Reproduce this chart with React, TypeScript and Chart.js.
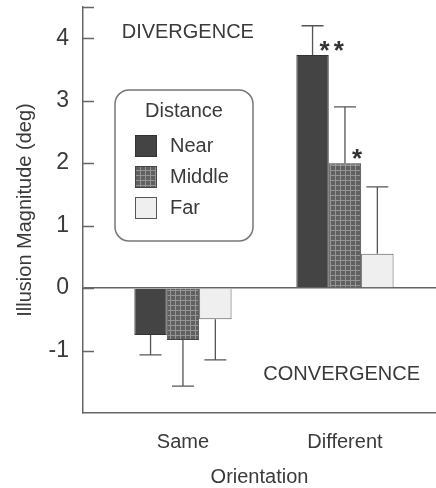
import React, { useEffect, useRef } from 'react';
import { Chart, registerables } from 'chart.js';

Chart.register(...registerables);

// ---- data ----
const categories = ['Same', 'Different'];
const seriesNames = ['Near', 'Middle', 'Far'];
const nearValues = [-0.75, 3.73];
const middleValues = [-0.83, 2.0];
const farValues = [-0.5, 0.55];
const nearErrors = [0.32, 0.47];
const middleErrors = [0.74, 0.9];
const farErrors = [0.65, 1.07];
const nearMarks = ['', '**'];
const middleMarks = ['', '*'];
const farMarks = ['', ''];
const yTickValues = [-1, 0, 1, 2, 3, 4];
const legendTitle = 'Distance';
const xTitle = 'Orientation';
const yTitle = 'Illusion Magnitude (deg)';
const regionLabels = ['DIVERGENCE', 'CONVERGENCE'];
const regionLabelX = [1.03, 1.98];
const regionLabelY = [4.1, -1.38];

const FONT = '"Liberation Sans", Arial, Helvetica, sans-serif';
const TEXT = '#3a3a3a';
const LINE = '#666666';

function makePattern(base: string, line: string | null, size: number) {
  const c = document.createElement('canvas');
  c.width = size;
  c.height = size;
  const g = c.getContext('2d')!;
  g.fillStyle = base;
  g.fillRect(0, 0, size, size);
  if (line) {
    g.fillStyle = line;
    g.fillRect(0, 0, size, 1);
    g.fillRect(0, 0, 1, size);
  }
  return g.createPattern(c, 'repeat')!;
}

const errorBarPlugin = {
  id: 'errorBars',
  afterDatasetsDraw(chart: any) {
    const ctx = chart.ctx;
    const y = chart.scales.y;
    chart.data.datasets.forEach((ds: any, di: number) => {
      const meta = chart.getDatasetMeta(di);
      meta.data.forEach((bar: any, i: number) => {
        const v = ds.data[i].y;
        const e = ds.errors[i];
        const end = v >= 0 ? v + e : v - e;
        const y0 = y.getPixelForValue(v);
        const y1 = y.getPixelForValue(end);
        ctx.save();
        ctx.strokeStyle = '#555';
        ctx.lineWidth = 1.3;
        ctx.beginPath();
        ctx.moveTo(bar.x, y0);
        ctx.lineTo(bar.x, y1);
        ctx.moveTo(bar.x - 11, y1);
        ctx.lineTo(bar.x + 11, y1);
        ctx.stroke();
        const m = ds.marks[i];
        if (m) {
          ctx.fillStyle = '#333';
          ctx.font = `bold 26px ${FONT}`;
          (ctx as any).letterSpacing = '4px';
          ctx.textAlign = 'left';
          ctx.textBaseline = 'alphabetic';
          ctx.fillText(m, bar.x + 7, y0 - 11 + 15);
        }
        ctx.restore();
      });
    });
  },
};

const decorPlugin = {
  id: 'decor',
  afterDraw(chart: any) {
    const ctx = chart.ctx;
    const area = chart.chartArea;
    const x = chart.scales.x;
    const y = chart.scales.y;
    ctx.save();
    // inward y ticks
    ctx.strokeStyle = LINE;
    ctx.lineWidth = 1.5;
    ctx.beginPath();
    const vals = [...yTickValues, y.max];
    vals.forEach((v) => {
      const py = Math.round(y.getPixelForValue(v)) + 0.5;
      ctx.moveTo(area.left, py);
      ctx.lineTo(area.left + 11, py);
    });
    ctx.stroke();

    // region labels
    ctx.fillStyle = TEXT;
    ctx.font = `20px ${FONT}`;
    ctx.textAlign = 'center';
    ctx.textBaseline = 'middle';
    regionLabels.forEach((t, i) => {
      ctx.fillText(t, x.getPixelForValue(regionLabelX[i]), y.getPixelForValue(regionLabelY[i]));
    });

    // legend box
    const lx = area.left + 32;
    const ly = area.top + 83;
    const lw = 138;
    const lh = 151;
    ctx.strokeStyle = '#777';
    ctx.lineWidth = 1.5;
    ctx.beginPath();
    (ctx as any).roundRect(lx, ly, lw, lh, 14);
    ctx.stroke();
    ctx.fillStyle = TEXT;
    ctx.textAlign = 'center';
    ctx.fillText(legendTitle, lx + lw / 2, ly + 21);
    chart.data.datasets.forEach((ds: any, i: number) => {
      const cy = ly + 56 + i * 31;
      ctx.fillStyle = ds.backgroundColor;
      ctx.fillRect(lx + 20, cy - 11, 22, 22);
      ctx.strokeStyle = ds.borderColor;
      ctx.lineWidth = 1;
      ctx.strokeRect(lx + 20.5, cy - 10.5, 21, 21);
      ctx.fillStyle = TEXT;
      ctx.textAlign = 'left';
      ctx.fillText(ds.label, lx + 55, cy);
    });
    ctx.restore();
  },
};

export default function App() {
  const canvasRef = useRef<HTMLCanvasElement | null>(null);

  useEffect(() => {
    const canvas = canvasRef.current!;
    const nearFill = '#444444';
    const middleFill = makePattern('#606060', '#959595', 5);
    const farFill = '#efefef';
    const values = [nearValues, middleValues, farValues];
    const errors = [nearErrors, middleErrors, farErrors];
    const marks = [nearMarks, middleMarks, farMarks];
    const fills: any[] = [nearFill, middleFill, farFill];
    const borders = ['#333', '#444', '#555'];

    const chart = new Chart(canvas, {
      type: 'bar',
      data: {
        datasets: seriesNames.map((name, s) => ({
          label: name,
          data: categories.map((_, i) => ({ x: i + 1, y: values[s][i] })),
          backgroundColor: fills[s],
          borderColor: borders[s],
          borderWidth: 1,
          errors: errors[s],
          marks: marks[s],
          categoryPercentage: 0.6,
          barPercentage: 1,
        })) as any,
      },
      options: {
        animation: false,
        responsive: true,
        maintainAspectRatio: false,
        layout: { padding: { top: 7, left: 0, right: 0, bottom: 0 } },
        plugins: { legend: { display: false }, tooltip: { enabled: false } },
        scales: {
          x: {
            type: 'linear',
            offset: false,
            min: 0.383,
            max: 2.562,
            afterBuildTicks: (scale: any) => {
              scale.ticks = categories.map((_, i) => ({ value: i + 1 }));
            },
            afterFit: (scale: any) => {
              scale.height = 75;
              scale.paddingLeft = 0;
              scale.paddingRight = 0;
            },
            grid: { display: false, drawTicks: false, offset: false },
            border: { display: true, color: LINE, width: 1.5 },
            ticks: {
              padding: 17,
              color: TEXT,
              font: { family: FONT, size: 20 },
              maxRotation: 0,
              autoSkip: false,
              callback: (v: any) => categories[Number(v) - 1] ?? '',
            },
            title: {
              display: true,
              text: xTitle,
              color: TEXT,
              font: { family: FONT, size: 20 },
              padding: { top: 0, bottom: -1 },
            },
          },
          y: {
            type: 'linear',
            min: -2,
            max: 4.5,
            afterBuildTicks: (scale: any) => {
              scale.ticks = yTickValues.map((v) => ({ value: v }));
            },
            afterFit: (scale: any) => {
              scale.width = 83;
              scale.paddingTop = 0;
              scale.paddingBottom = 0;
            },
            grid: {
              drawTicks: false,
              lineWidth: 1.5,
              color: (c: any) => (c.tick && c.tick.value === 0 ? LINE : 'rgba(0,0,0,0)'),
            },
            border: { display: true, color: LINE, width: 1.5 },
            ticks: {
              padding: 14,
              color: TEXT,
              font: { family: FONT, size: 23 },
              callback: (v: any) => String(v),
            },
            title: {
              display: true,
              text: yTitle,
              color: TEXT,
              font: { family: FONT, size: 20 },
              padding: { top: 13, bottom: 0 },
            },
          },
        },
      } as any,
      plugins: [errorBarPlugin, decorPlugin],
    });
    return () => chart.destroy();
  }, []);

  return (
    <div style={{ position: 'fixed', left: 0, top: 0, width: 436, height: 488, background: '#fff' }}>
      <canvas ref={canvasRef} />
    </div>
  );
}
